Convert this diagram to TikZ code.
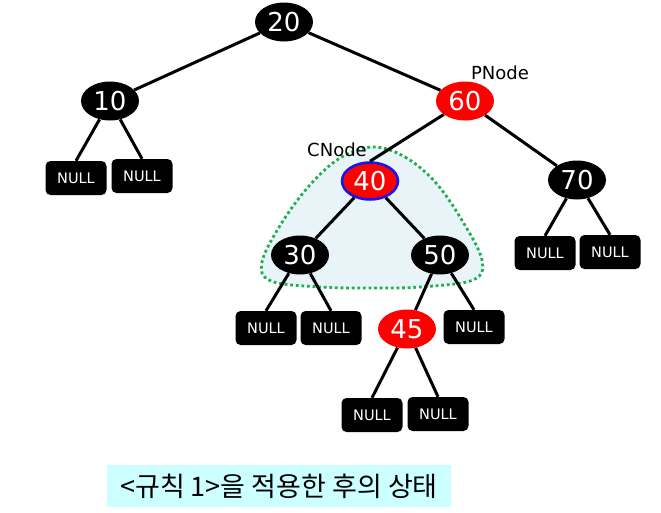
\documentclass[tikz,border=0pt]{standalone}
\usepackage{fontspec}
\setmainfont{DejaVu Sans}
\newfontfamily\kofont{Noto Sans CJK KR}
\usepackage{tikz}
\usetikzlibrary{shapes.geometric}
\definecolor{cRed}{HTML}{FF0000}
\definecolor{cBlue}{HTML}{1414F0}
\definecolor{cZone}{HTML}{E8F4F8}
\definecolor{cDots}{HTML}{1DAF50}
\definecolor{cNote}{HTML}{CCFFFF}
\tikzset{
  rb/.style={ellipse, fill=#1, text=white, minimum width=58pt, minimum height=39pt,
             inner sep=0pt, font=\fontsize{26}{26}\selectfont},
  leaf/.style={rounded corners=5pt, fill=black, text=white, minimum width=61pt,
               minimum height=34pt, inner sep=0pt, font=\fontsize{14.5}{14.5}\selectfont},
  tag/.style={font=\fontsize{18}{18}\selectfont},
  link/.style={line width=3pt, draw=black},
}

\begin{document}
\begin{tikzpicture}[x=1pt, y=-1pt]
\useasboundingbox (0,0) rectangle (661,512);
% area round CNode
\draw[cDots, fill=cZone, line width=2.8pt, dash pattern=on 2.8pt off 2.8pt]
  plot[smooth cycle, tension=0.6] coordinates {(373,147) (405,157) (436,183) (463,222) (482,260) (473,280)
  (420,287) (373,288) (320,287) (271,281) (262,262) (281,224) (309,186) (340,158)};
% tree
\node[rb=black] (n20) at (284,22) {20};
\node[rb=black] (n10) at (110,101) {10};
\node[rb=cRed] (n60) at (465,101) {60};
\node[rb=cRed, draw=cBlue, line width=2.5pt, minimum width=56pt, minimum height=37pt] (n40) at (370,181) {40};
\node[rb=black] (n70) at (577,180) {70};
\node[rb=black] (n30) at (300,255) {30};
\node[rb=black] (n50) at (440,255) {50};
\node[rb=cRed] (n45) at (407,329) {45};
\node[leaf] (z10a) at (76,178) {NULL};
\node[leaf] (z10b) at (142,176) {NULL};
\node[leaf] (z70a) at (545,253) {NULL};
\node[leaf] (z70b) at (610,252) {NULL};
\node[leaf] (z30a) at (266,328) {NULL};
\node[leaf] (z30b) at (331,328) {NULL};
\node[leaf] (z50b) at (474,327) {NULL};
\node[leaf] (z45a) at (372,415) {NULL};
\node[leaf] (z45b) at (438,414) {NULL};
\node[tag] (pn) at (500,73) {PNode};
\node[tag] (cn) at (337,150) {CNode};
\draw[link] (n20)--(n10); \draw[link] (n20)--(n60);
\draw[link] (n60)--(n40.north); \draw[link] (n60)--(n70);
\draw[link] (n40)--(n30); \draw[link] (n40)--(n50);
\draw[link] (n50)--(n45);
\draw[link] (n10)--(z10a.north); \draw[link] (n10)--(z10b.north);
\draw[link] (n70)--(z70a.north); \draw[link] (n70)--(z70b.north);
\draw[link] (n30)--(z30a.north); \draw[link] (n30)--(z30b.north);
\draw[link] (n50)--(z50b.north);
\draw[link] (n45)--(z45a.north); \draw[link] (n45)--(z45b.north);
% caption
\node[fill=cNote, minimum width=344pt, minimum height=42pt, font=\kofont\fontsize{27}{27}\selectfont] (cap) at (279,486) {<규칙 1>을 적용한 후의 상태};
\end{tikzpicture}
\end{document}
